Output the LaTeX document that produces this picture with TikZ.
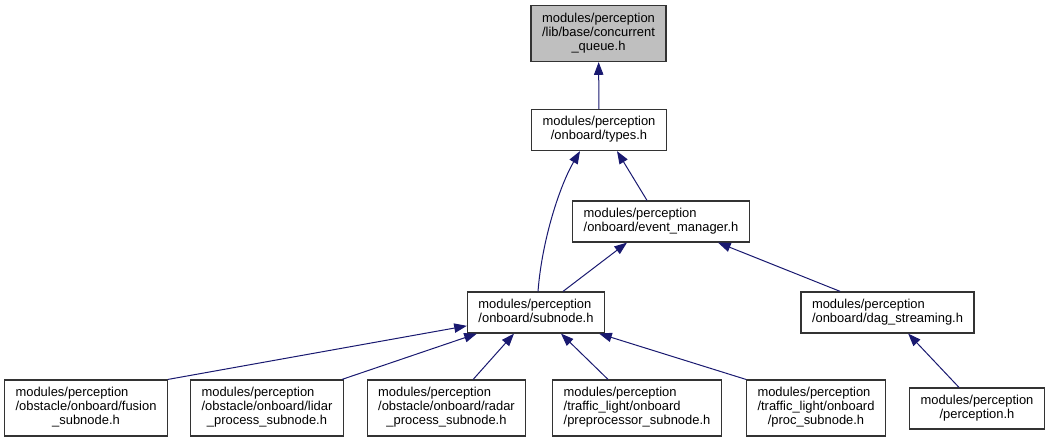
\documentclass[tikz,border=0pt]{standalone}
\usepackage{fontspec}
\usepackage{tikz}
\usetikzlibrary{arrows.meta}
\newfontfamily\dotfont{Liberation Sans}
\definecolor{edgeblue}{RGB}{25,25,112}
\newcommand{\filelabel}[2]{\begin{tabular}{@{}l@{}}#1\\\multicolumn{1}{@{}c@{}}{#2}\end{tabular}}

\begin{document}
\begin{tikzpicture}[x=0.75pt, y=-0.75pt, >={Triangle[length=9.5pt,width=7pt]}]
				\tikzstyle{file}=[draw=black!80, line width=0.9pt, fill=white, inner xsep=8.25pt, inner ysep=3pt, minimum height=30.75pt, font=\dotfont\fontsize{9.7}{10.5}\selectfont]
				\tikzstyle{dep}=[->, draw=edgeblue, line width=0.75pt]
				\useasboundingbox (0,0) rectangle (1049,443);
				%First Row
				\node[file](queue)[fill = black!25, minimum height=42pt] at (598.5,33.5) {\filelabel{modules/perception\\/lib/base/concurrent}{\_queue.h}};
				%Second Row
				\node[file](types) at (599,130) {\filelabel{modules/perception}{/onboard/types.h}};
				%Third Row
				\node[file](event) at (661,221.5) {\filelabel{modules/perception}{/onboard/event\_manager.h}};
				%Fourth Row
				\node[file](subnode) at (536,312.5) {\filelabel{modules/perception}{/onboard/subnode.h}};
				\node[file](dag) at (887.5,312.5) {\filelabel{modules/perception}{/onboard/dag\_streaming.h}};
				%Fifth Row
				\node[file](fusion)[minimum height=42pt] at (86,408) {\filelabel{modules/perception\\/obstacle/onboard/fusion}{\_subnode.h}};
				\node[file](lidar)[minimum height=42pt] at (267,408) {\filelabel{modules/perception\\/obstacle/onboard/lidar}{\_process\_subnode.h}};
				\node[file](radar)[minimum height=42pt] at (446.5,408) {\filelabel{modules/perception\\/obstacle/onboard/radar}{\_process\_subnode.h}};
				\node[file](prep)[minimum height=42pt] at (637,408) {\filelabel{modules/perception\\/traffic\_light/onboard}{/preprocessor\_subnode.h}};
				\node[file](proc)[minimum height=42pt] at (816,408) {\filelabel{modules/perception\\/traffic\_light/onboard}{/proc\_subnode.h}};
				\node[file](perception) at (977,408.5) {\filelabel{modules/perception}{/perception.h}};
				%Edges
				\draw[dep] (types) -- (queue);
				\draw[dep] ([xshift=-10.5pt]event.north) -- ([xshift=13.5pt]types.south);
				\draw[dep] ([xshift=1.5pt]subnode.north) .. controls +(4,-52) and +(-20,34) .. ([xshift=-14.25pt]types.south);
				\draw[dep] ([xshift=20.25pt]subnode.north) -- ([xshift=-25.5pt]event.south);
				\draw[dep] ([xshift=-35.5pt]dag.north) -- ([xshift=42.75pt]event.south);
				\draw[dep] ([xshift=-13.5pt]perception.north) -- ([xshift=15.5pt]dag.south);
				\draw[dep] (fusion.north east) -- ([yshift=-10pt]subnode.west);
				\draw[dep] ([xshift=-1.5pt]lidar.north east) -- ([xshift=7.5pt]subnode.south west);
				\draw[dep] ([xshift=20pt]radar.north) -- ([xshift=-16.5pt]subnode.south);
				\draw[dep] ([xshift=-21.75pt]prep.north) -- ([xshift=18.75pt]subnode.south);
				\draw[dep] (proc.north west) -- ([xshift=-4.5pt]subnode.south east);
				\end{tikzpicture}
\end{document}
